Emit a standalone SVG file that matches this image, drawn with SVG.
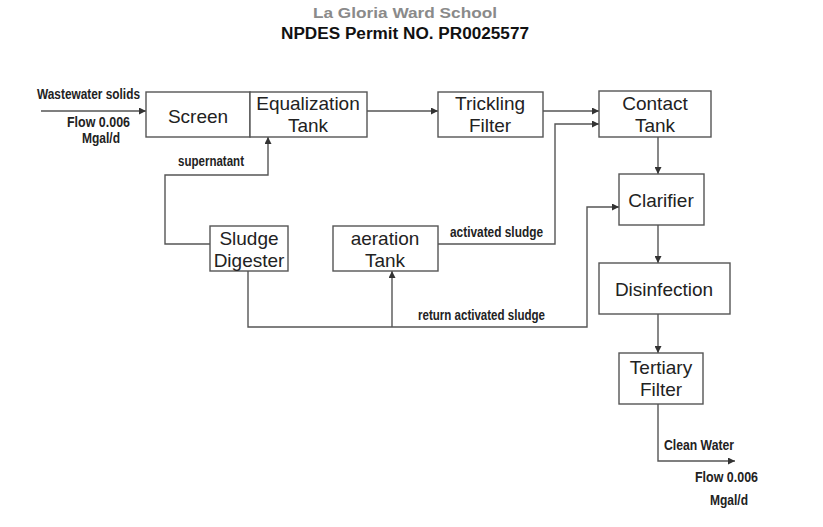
<svg xmlns="http://www.w3.org/2000/svg" width="823" height="527" viewBox="0 0 823 527">
<style>
.box{fill:#fff;stroke:#555;stroke-width:1.4}
.lbl{font-family:"Liberation Sans",Arial,sans-serif;font-size:19px;fill:#222;text-anchor:middle}
.sm{font-family:"Liberation Sans Narrow","Liberation Sans",Arial,sans-serif;font-size:15px;fill:#222;font-weight:bold}
.ln{fill:none;stroke:#555;stroke-width:1.4}
</style>
<defs>
<marker id="ah" viewBox="0 0 10 10" refX="10" refY="5" markerWidth="7" markerHeight="7" markerUnits="userSpaceOnUse" orient="auto">
<path d="M0,0 L10,5 L0,10 z" fill="#333"/>
</marker>
</defs>
<rect width="823" height="527" fill="#fff"/>
<g id="title">
<text x="405" y="18" font-family="Liberation Sans,Arial,sans-serif" font-size="15" font-weight="bold" fill="#8a8a8a" text-anchor="middle" textLength="184" lengthAdjust="spacingAndGlyphs">La Gloria Ward School</text>
<text x="405" y="39" font-family="Liberation Sans,Arial,sans-serif" font-size="16" font-weight="bold" fill="#111" text-anchor="middle" textLength="248" lengthAdjust="spacingAndGlyphs">NPDES Permit NO. PR0025577</text>
</g>
<g id="connectors">
<path class="ln" d="M41,111 H146" marker-end="url(#ah)"/>
<path class="ln" d="M367,111 H438" marker-end="url(#ah)"/>
<path class="ln" d="M543,111 H599" marker-end="url(#ah)"/>
<path class="ln" d="M438,244 H555 V124 H599" marker-end="url(#ah)"/>
<path class="ln" d="M658,137 V174" marker-end="url(#ah)"/>
<path class="ln" d="M658,225 V263" marker-end="url(#ah)"/>
<path class="ln" d="M658,314 V353" marker-end="url(#ah)"/>
<path class="ln" d="M658,404 V461 H735" marker-end="url(#ah)"/>
<path class="ln" d="M210,244 H165 V175 H268 V137" marker-end="url(#ah)"/>
<path class="ln" d="M248,271 V327 H587 V207 H619" marker-end="url(#ah)"/>
<path class="ln" d="M392,327 V271" marker-end="url(#ah)"/>
<text class="sm" x="37" y="99" font-size="16" textLength="103" lengthAdjust="spacingAndGlyphs">Wastewater solids</text>
<text class="sm" x="67" y="127" font-size="13" textLength="63" lengthAdjust="spacingAndGlyphs">Flow 0.006</text>
<text class="sm" x="82" y="143" font-size="13" textLength="38" lengthAdjust="spacingAndGlyphs">Mgal/d</text>
<text class="sm" x="178" y="166" font-size="14" textLength="66" lengthAdjust="spacingAndGlyphs">supernatant</text>
<text class="sm" x="450" y="237" font-size="14" textLength="93" lengthAdjust="spacingAndGlyphs">activated sludge</text>
<text class="sm" x="418" y="320" font-size="14" textLength="127" lengthAdjust="spacingAndGlyphs">return activated sludge</text>
<text class="sm" x="664" y="450" textLength="70" lengthAdjust="spacingAndGlyphs">Clean Water</text>
<text class="sm" x="695" y="482" textLength="63" lengthAdjust="spacingAndGlyphs">Flow 0.006</text>
<text class="sm" x="710" y="505" textLength="38" lengthAdjust="spacingAndGlyphs">Mgal/d</text>
</g>
<g id="screen"><rect class="box" x="146" y="92" width="104" height="45"/><text class="lbl" x="198" y="123">Screen</text></g>
<g id="equalization"><rect class="box" x="250" y="92" width="117" height="45"/><text class="lbl" x="308" y="110">Equalization</text><text class="lbl" x="308" y="132">Tank</text></g>
<g id="trickling"><rect class="box" x="438" y="92" width="105" height="45"/><text class="lbl" x="490" y="110">Trickling</text><text class="lbl" x="490" y="132">Filter</text></g>
<g id="contact"><rect class="box" x="599" y="91" width="112" height="46"/><text class="lbl" x="655" y="110">Contact</text><text class="lbl" x="655" y="132">Tank</text></g>
<g id="clarifier"><rect class="box" x="619" y="174" width="85" height="51"/><text class="lbl" x="661" y="207">Clarifier</text></g>
<g id="disinfection"><rect class="box" x="599" y="263" width="131" height="51"/><text class="lbl" x="664" y="296">Disinfection</text></g>
<g id="tertiary"><rect class="box" x="619" y="353" width="84" height="51"/><text class="lbl" x="661" y="374">Tertiary</text><text class="lbl" x="661" y="396">Filter</text></g>
<g id="digester"><rect class="box" x="210" y="226" width="78" height="45"/><text class="lbl" x="249" y="245">Sludge</text><text class="lbl" x="249" y="267">Digester</text></g>
<g id="aeration"><rect class="box" x="333" y="226" width="105" height="45"/><text class="lbl" x="385" y="245">aeration</text><text class="lbl" x="385" y="267">Tank</text></g>
</svg>
